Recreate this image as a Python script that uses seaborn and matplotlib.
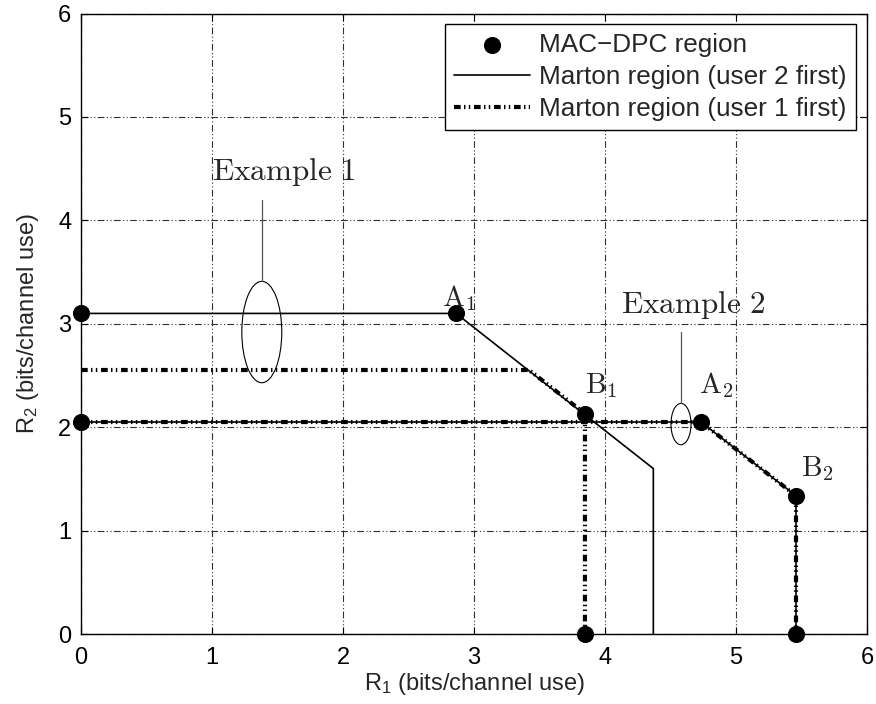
import matplotlib
matplotlib.use("Agg")
import matplotlib.pyplot as plt
import seaborn as sns
import pandas as pd
from matplotlib.patches import Ellipse

# ---------------- data ----------------
# Example 1
ex1_mac_x = [0.0, 2.863, 3.847, 3.847]
ex1_mac_y = [3.10, 3.10, 2.13, 0.0]
ex1_u2_x = [0.0, 2.863, 4.369, 4.369]
ex1_u2_y = [3.10, 3.10, 1.60, 0.0]
ex1_u1_x = [0.0, 3.42, 3.847, 3.847]
ex1_u1_y = [2.553, 2.553, 2.13, 0.0]
# Example 2
ex2_mac_x = [0.0, 4.733, 5.458, 5.458]
ex2_mac_y = [2.05, 2.05, 1.337, 0.0]
ex2_u2_x = [0.0, 4.733, 5.458, 5.458]
ex2_u2_y = [2.05, 2.05, 1.337, 0.0]
ex2_u1_x = [0.0, 4.733, 5.458, 5.458]
ex2_u1_y = [2.05, 2.05, 1.337, 0.0]

point_labels = [r"$\mathrm{A}_1$", r"$\mathrm{B}_1$", r"$\mathrm{A}_2$", r"$\mathrm{B}_2$"]
label_x = [2.885, 3.97, 4.85, 5.62]
label_y = [3.25, 2.40, 2.41, 1.60]

legend_labels = ["MAC\u2212DPC region", "Marton region (user 2 first)",
                 "Marton region (user 1 first)"]
xticks = [0, 1, 2, 3, 4, 5, 6]
yticks = [0, 1, 2, 3, 4, 5, 6]

# ---------------- style ----------------
sns.set_theme(style="white")
plt.rcParams["font.family"] = ["Liberation Sans", "DejaVu Sans"]
plt.rcParams["mathtext.fontset"] = "custom"
plt.rcParams["mathtext.rm"] = "Liberation Sans"
plt.rcParams["mathtext.it"] = "Liberation Sans"
plt.rcParams["mathtext.bf"] = "Liberation Sans"

fig = plt.figure(figsize=(8.76, 7.04), dpi=100)
ax = fig.add_axes([0.0925, 0.0994, 0.8972, 0.8814])

u1_style = (0, (1.6, 0.8, 0.35, 0.8, 0.35, 0.9))
grid_style = (0, (6, 2.2, 1, 2.2, 1, 2.2))

def line(x, y, **kw):
    df = pd.DataFrame({"x": x, "y": y})
    sns.lineplot(data=df, x="x", y="y", sort=False, estimator=None, ax=ax, **kw)

# user 1 first (thick dash-dot-dot)
line(ex1_u1_x, ex1_u1_y, color="black", lw=3.0, linestyle=u1_style,
     dash_capstyle="butt", zorder=3)
line(ex2_u1_x, ex2_u1_y, color="black", lw=3.0, linestyle=u1_style,
     dash_capstyle="butt", zorder=3, label=legend_labels[2])
# user 2 first (thin solid)
line(ex1_u2_x, ex1_u2_y, color="black", lw=1.2, zorder=4, label=legend_labels[1])
line(ex2_u2_x, ex2_u2_y, color="black", lw=1.2, zorder=4)
# MAC-DPC points
sns.scatterplot(x=ex1_mac_x, y=ex1_mac_y, color="black", s=130, edgecolor="black",
                zorder=5, ax=ax, label=legend_labels[0], clip_on=False)
sns.scatterplot(x=ex2_mac_x, y=ex2_mac_y, color="black", s=130, edgecolor="black",
                zorder=5, ax=ax, clip_on=False)

# annotations (ellipses + leader lines + text)
ax.add_patch(Ellipse((1.38, 2.92), 0.305, 0.98, fill=False, edgecolor="black",
                     lw=0.8, zorder=6))
ax.plot([1.38, 1.38], [3.41, 4.20], color="#555555", lw=0.9, zorder=6)
ax.text(1.0, 4.47, r"$\mathrm{Example\ 1}$", fontsize=22.5, math_fontfamily="cm",
        ha="left", va="center", zorder=7)
ax.add_patch(Ellipse((4.58, 2.03), 0.153, 0.40, fill=False, edgecolor="black",
                     lw=0.8, zorder=6))
ax.plot([4.58, 4.58], [2.23, 2.92], color="#555555", lw=0.9, zorder=6)
ax.text(4.12, 3.18, r"$\mathrm{Example\ 2}$", fontsize=22.5, math_fontfamily="cm",
        ha="left", va="center", zorder=7)
for t, lx, ly in zip(point_labels, label_x, label_y):
    ax.text(lx, ly, t, fontsize=21, math_fontfamily="cm", ha="center",
            va="center", zorder=7)

# axes
ax.set_xlim(0, 6)
ax.set_ylim(0, 6)
ax.set_xticks(xticks)
ax.set_yticks(yticks)
ax.set_xticklabels([str(v) for v in xticks])
ax.set_yticklabels([str(v) for v in yticks])
ax.tick_params(direction="in", length=5, width=0.8, labelsize=17, colors="black",
               top=True, right=True, bottom=True, left=True)
ax.tick_params(axis="x", pad=9)
ax.tick_params(axis="y", pad=7)
ax.grid(True, color="#303030", lw=0.8, linestyle=grid_style)
for s in ax.spines.values():
    s.set_color("black")
    s.set_linewidth(1.0)
ax.set_xlabel(r"R$_1$ (bits/channel use)", fontsize=17, labelpad=2)
ax.set_ylabel(r"R$_2$ (bits/channel use)", fontsize=17, labelpad=12)

handles, labels = ax.get_legend_handles_labels()
order = [labels.index(l) for l in legend_labels]
leg = ax.legend([handles[i] for i in order], [labels[i] for i in order],
                loc="upper right", bbox_to_anchor=(0.986, 0.983), fontsize=18.8,
                frameon=True, fancybox=False, edgecolor="black", framealpha=1,
                handlelength=2.9, handletextpad=0.35, labelspacing=0.3,
                borderpad=0.35, borderaxespad=0)
leg.get_frame().set_linewidth(1.0)

fig.savefig("out.png", dpi=100)
